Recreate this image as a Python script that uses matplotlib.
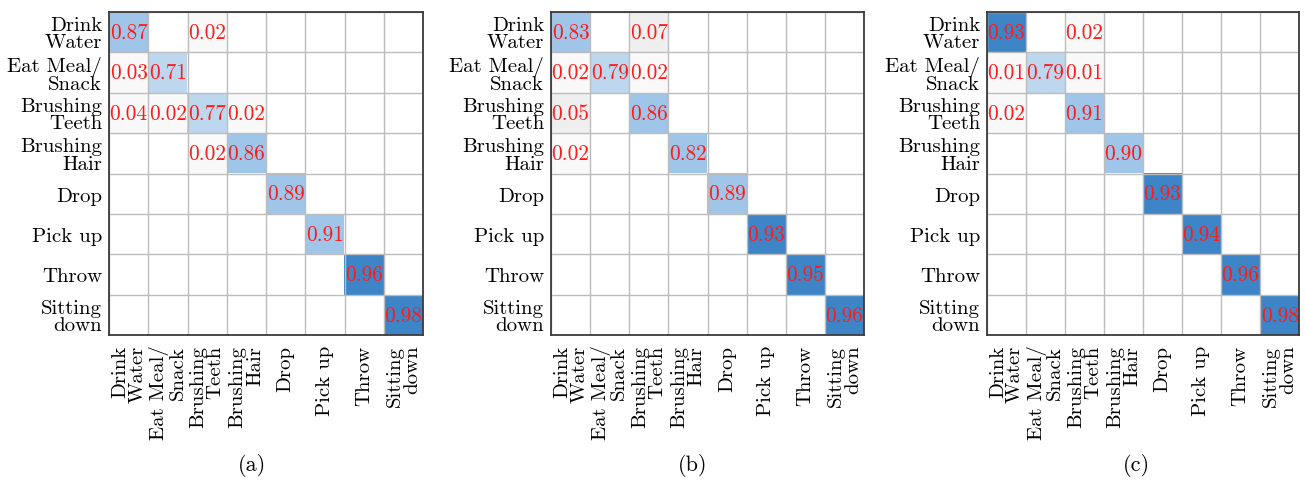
import numpy as np
import matplotlib
matplotlib.use("Agg")
import matplotlib.pyplot as plt
from matplotlib.colors import ListedColormap, BoundaryNorm

plt.rcParams['font.family'] = ['cmr10', 'DejaVu Serif']
plt.rcParams['axes.formatter.use_mathtext'] = True

labels = ['Drink\nWater', 'Eat Meal/\nSnack', 'Brushing\nTeeth', 'Brushing\nHair',
          'Drop', 'Pick up', 'Throw', 'Sitting\ndown']

# confusion matrices, rows = true class, cols = predicted class
cm_a = np.array([
    [0.87, 0, 0.02, 0, 0, 0, 0, 0],
    [0.03, 0.71, 0, 0, 0, 0, 0, 0],
    [0.04, 0.02, 0.77, 0.02, 0, 0, 0, 0],
    [0, 0, 0.02, 0.86, 0, 0, 0, 0],
    [0, 0, 0, 0, 0.89, 0, 0, 0],
    [0, 0, 0, 0, 0, 0.91, 0, 0],
    [0, 0, 0, 0, 0, 0, 0.96, 0],
    [0, 0, 0, 0, 0, 0, 0, 0.98],
])
cm_b = np.array([
    [0.83, 0, 0.07, 0, 0, 0, 0, 0],
    [0.02, 0.79, 0.02, 0, 0, 0, 0, 0],
    [0.05, 0, 0.86, 0, 0, 0, 0, 0],
    [0.02, 0, 0, 0.82, 0, 0, 0, 0],
    [0, 0, 0, 0, 0.89, 0, 0, 0],
    [0, 0, 0, 0, 0, 0.93, 0, 0],
    [0, 0, 0, 0, 0, 0, 0.95, 0],
    [0, 0, 0, 0, 0, 0, 0, 0.96],
])
cm_c = np.array([
    [0.93, 0, 0.02, 0, 0, 0, 0, 0],
    [0.01, 0.79, 0.01, 0, 0, 0, 0, 0],
    [0.02, 0, 0.91, 0, 0, 0, 0, 0],
    [0, 0, 0, 0.90, 0, 0, 0, 0],
    [0, 0, 0, 0, 0.93, 0, 0, 0],
    [0, 0, 0, 0, 0, 0.94, 0, 0],
    [0, 0, 0, 0, 0, 0, 0.96, 0],
    [0, 0, 0, 0, 0, 0, 0, 0.98],
])
captions = ['(a)', '(b)', '(c)']

# stepped colour scale
cmap = ListedColormap(['#ffffff', '#f9f9f9', '#efefef', '#bdd7ee', '#9fc5e8', '#3d85c6'])
norm = BoundaryNorm([0, 0.005, 0.045, 0.1, 0.8, 0.92, 1.0], cmap.N)

W, H = 1305, 485
fig = plt.figure(figsize=(W / 100, H / 100), dpi=100)

lefts = [109, 551, 987]
widths = [314, 313, 312]
cap_x = [252, 693, 1136]

for cm, cap, l, w, cx in zip([cm_a, cm_b, cm_c], captions, lefts, widths, cap_x):
    ax = fig.add_axes([l / W, 1 - 336 / H, w / W, 323 / H])
    ax.imshow(cm, cmap=cmap, norm=norm, aspect='auto', interpolation='nearest')
    n = len(labels)
    for i in range(n):
        for j in range(n):
            if cm[i, j] > 0:
                ax.text(j, i, f'{cm[i, j]:.2f}', ha='center', va='center',
                        color='#ff1a1a', fontsize=15.3)
    ax.set_xticks(range(n))
    ax.set_yticks(range(n))
    ax.set_xticklabels(labels, rotation=90, fontsize=15, va='top', ha='center',
                       multialignment='right', linespacing=0.95)
    ax.set_yticklabels(labels, fontsize=15, multialignment='right', linespacing=0.95)
    ax.set_xticks(np.arange(-0.5, n, 1), minor=True)
    ax.set_yticks(np.arange(-0.5, n, 1), minor=True)
    ax.grid(which='minor', color='#bcbcbc', linewidth=1.0)
    ax.tick_params(which='both', length=0)
    ax.tick_params(axis='x', pad=7)
    ax.tick_params(axis='y', pad=5)
    for s in ax.spines.values():
        s.set_color('#3a3a3a')
        s.set_linewidth(1.3)
    fig.text(cx / W, 1 - 466 / H, cap, ha='center', va='center', fontsize=16)

fig.savefig('out.png', dpi=100)
